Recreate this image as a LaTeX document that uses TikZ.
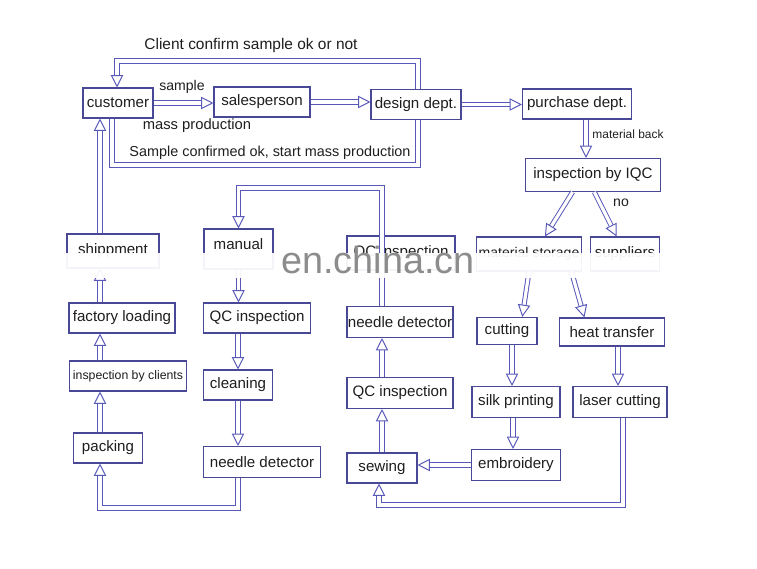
\documentclass[tikz,border=0pt]{standalone}
\usepackage{fontspec}
\setmainfont{Liberation Sans}
\usetikzlibrary{calc,arrows.meta}
\definecolor{boxblue}{RGB}{72,72,150}
\definecolor{flowblue}{RGB}{88,88,185}
\definecolor{inkgray}{RGB}{30,30,30}
\definecolor{markgray}{RGB}{140,140,140}

\begin{document}
\begin{tikzpicture}[x=0.02cm,y=-0.02cm,
    stage/.style={draw=boxblue,line width=0.6pt,fill=white,inner sep=0pt,text=inkgray,
      font=\fontsize{8.6}{10}\selectfont},
    boxsize/.style 2 args={minimum width=#1*0.02cm,minimum height=#2*0.02cm},
    link/.style={draw=flowblue,double=white,double distance=1.8pt,line width=0.55pt},
    flow/.style={link,-{Triangle[open,length=7pt,width=7pt]}},
    tag/.style={text=inkgray,inner sep=0pt,font=\fontsize{8.8}{10}\selectfont}]
    \useasboundingbox (0,0) rectangle (757,568);
    \node[stage,boxsize={70}{30}] (customer) at (118,103) {customer};
    \node[stage,boxsize={96}{30}] (salesperson) at (262,102) {salesperson};
    \node[stage,boxsize={90}{30}] (design) at (416,104.5) {design dept.};
    \node[stage,boxsize={109}{30}] (purchase) at (577,104) {purchase dept.};
    \node[stage,boxsize={135}{33}] (iqc) at (593,175) {inspection by IQC};
    \node[stage,boxsize={105}{34},font=\fontsize{8}{9}\selectfont] (storage) at (529,254) {material storage};
    \node[stage,boxsize={69}{34}] (suppliers) at (625,254) {suppliers};
    \node[stage,boxsize={92}{34}] (shipment) at (113,251) {shippment};
    \node[stage,boxsize={69}{40},text depth=6pt] (manual) at (238.5,249) {manual};
    \node[stage,boxsize={108}{34}] (qcbox) at (401,253) {QC inspection};
    \node[stage,boxsize={106}{30}] (loading) at (122,318) {factory loading};
    \node[stage,boxsize={117}{30},font=\fontsize{7}{8}\selectfont] (clients) at (128,376) {inspection by clients};
    \node[stage,boxsize={69}{30}] (packing) at (108,448) {packing};
    \node[stage,boxsize={107}{30}] (qcleft) at (257,318) {QC inspection};
    \node[stage,boxsize={69}{30}] (cleaning) at (238,385) {cleaning};
    \node[stage,boxsize={117}{31}] (needleleft) at (262,462) {needle detector};
    \node[stage,boxsize={106}{31}] (needlemid) at (400,322) {needle detector};
    \node[stage,boxsize={106}{31}] (qcmid) at (400,393) {QC inspection};
    \node[stage,boxsize={70}{30}] (sewing) at (382,468) {sewing};
    \node[stage,boxsize={60}{27}] (cutting) at (507,331) {cutting};
    \node[stage,boxsize={88}{31}] (silk) at (516,402) {silk printing};
    \node[stage,boxsize={89}{31}] (embroidery) at (516,465) {embroidery};
    \node[stage,boxsize={105}{28}] (heat) at (612,332) {heat transfer};
    \node[stage,boxsize={94}{31}] (laser) at (620,402) {laser cutting};

    \node[tag] (confirmtxt) at (251,46) {Client confirm sample ok or not};
    \node[tag,font=\fontsize{8}{9}\selectfont] (sampletxt) at (182,87) {sample};
    \node[tag,font=\fontsize{8.4}{10}\selectfont] (masstxt) at (197,126) {mass production};
    \node[tag,font=\fontsize{8.2}{10}\selectfont] (oktxt) at (270,153) {Sample confirmed ok, start mass production};
    \node[tag,font=\fontsize{6.8}{8}\selectfont] (backtxt) at (628,134) {material back};
    \node[tag,font=\fontsize{8}{9}\selectfont] (notxt) at (621,203) {no};

    \draw[flow] (customer.east) -- (customer.east -| salesperson.west);
    \draw[flow] (salesperson.east) -- (salesperson.east -| design.west);
    \draw[flow] (design.east) -- (design.east -| purchase.west);
    \coordinate (confirm) at (117,61);
    \draw[flow] ($(design.north)+(2,0)$) |- (confirm) -- (customer.north -| confirm);
    \coordinate (massprod) at (112,165);
    \draw[link] ($(design.south)+(2,0)$) |- (massprod) -- (customer.south -| massprod);
    \coordinate (pq) at ($(purchase.south)+(9,0)$);
    \draw[flow] (pq) -- (pq |- iqc.north);
    \draw[flow] ($(iqc.south west)!0.35!(iqc.south east)$) -- ($(storage.north west)!0.65!(storage.north east)$);
    \draw[flow] ($(iqc.south west)!0.51!(iqc.south east)$) -- ($(suppliers.north west)!0.38!(suppliers.north east)$);
    \draw[flow] ($(storage.south west)!0.5!(storage.south east)$) -- ($(cutting.north west)!0.75!(cutting.north east)$);
    \draw[flow] ($(storage.south west)!0.9!(storage.south east)$) -- ($(heat.north west)!0.24!(heat.north east)$);
    \coordinate (cs) at ($(cutting.south)+(5,0)$);
    \draw[flow] (cs) -- (cs |- silk.north);
    \coordinate (se) at ($(silk.south)+(-3,0)$);
    \draw[flow] (se) -- (se |- embroidery.north);
    \coordinate (hl) at ($(heat.south)+(6,0)$);
    \draw[flow] (hl) -- (hl |- laser.north);
    \draw[flow] (embroidery.west) -- (embroidery.west -| sewing.east);
    \coordinate (ls) at ($(laser.south)+(3,0)$);
    \coordinate (lowline) at (379,505);
    \draw[flow] (ls) |- (lowline) -- (lowline |- sewing.south);
    \draw[flow] (sewing.north) -- (sewing.north |- qcmid.south);
    \draw[flow] (sewing.north |- qcmid.north) -- (sewing.north |- needlemid.south);
    \coordinate (back) at (382,188);
    \draw[flow] (sewing.north |- needlemid.north) -- (back) -| (manual.north);
    \draw[flow] (manual.south) -- (manual.south |- qcleft.north);
    \draw[flow] (cleaning.north |- qcleft.south) -- (cleaning.north);
    \draw[flow] (cleaning.south) -- (cleaning.south |- needleleft.north);
    \coordinate (packline) at (100,508);
    \draw[flow] (cleaning.south |- needleleft.south) |- (packline) -- (packline |- packing.south);
    \draw[flow] (packline |- packing.north) -- (packline |- clients.south);
    \draw[flow] (packline |- clients.north) -- (packline |- loading.south);
    \draw[flow] (packline |- loading.north) -- (packline |- shipment.south);
    \draw[flow] (packline |- shipment.north) -- (packline |- customer.south);

    \fill[white,opacity=0.94] (35,253) rectangle (700,278);
    \node[text=markgray,inner sep=0pt,anchor=base west,font=\fontsize{21.5}{23}\selectfont] (mark) at (281,273) {en.china.cn};
\end{tikzpicture}
\end{document}
